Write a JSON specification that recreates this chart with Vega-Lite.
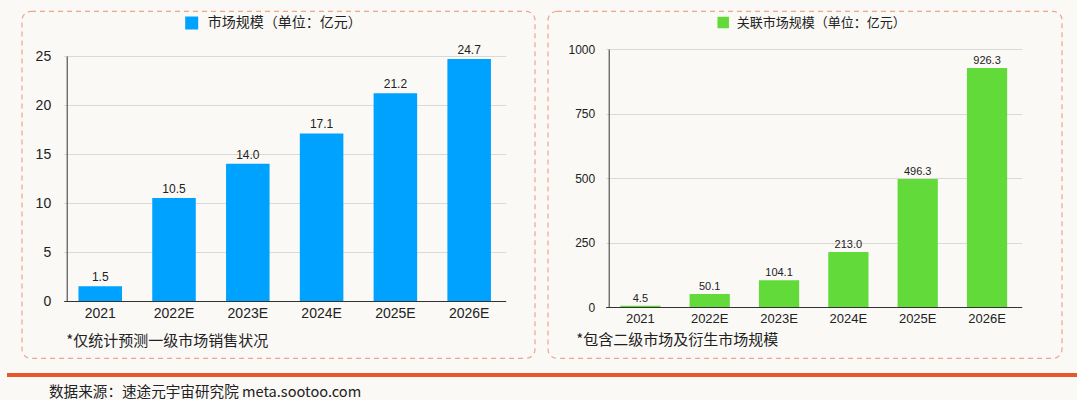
{
  "$schema": "https://vega.github.io/schema/vega-lite/v6.json",
  "background": "#faf9f6",
  "padding": {"left": 7, "top": 10, "right": 0, "bottom": 0},
  "center": true,
  "spacing": 13,
  "datasets": {
    "primary": [
      {"year": "2021", "value": 1.5, "series": "市场规模（单位：亿元）"},
      {"year": "2022E", "value": 10.5, "series": "市场规模（单位：亿元）"},
      {"year": "2023E", "value": 14.0, "series": "市场规模（单位：亿元）"},
      {"year": "2024E", "value": 17.1, "series": "市场规模（单位：亿元）"},
      {"year": "2025E", "value": 21.2, "series": "市场规模（单位：亿元）"},
      {"year": "2026E", "value": 24.7, "series": "市场规模（单位：亿元）"}
    ],
    "related": [
      {"year": "2021", "value": 4.5, "series": "关联市场规模（单位：亿元）"},
      {"year": "2022E", "value": 50.1, "series": "关联市场规模（单位：亿元）"},
      {"year": "2023E", "value": 104.1, "series": "关联市场规模（单位：亿元）"},
      {"year": "2024E", "value": 213.0, "series": "关联市场规模（单位：亿元）"},
      {"year": "2025E", "value": 496.3, "series": "关联市场规模（单位：亿元）"},
      {"year": "2026E", "value": 926.3, "series": "关联市场规模（单位：亿元）"}
    ]
  },
  "vconcat": [
    {
      "hconcat": [
        {
          "width": 513,
          "height": 347,
          "view": {"stroke": "#f2a38c", "strokeDash": [5, 4], "strokeWidth": 1.2, "cornerRadius": 9, "fill": null},
          "data": {"name": "primary"},
          "encoding": {
            "x": {
              "field": "year", "type": "nominal", "sort": null,
              "scale": {"range": [42, 484], "paddingInner": 0.41, "paddingOuter": 0.2},
              "axis": {
                "orient": "bottom", "offset": -57, "ticks": false, "tickSize": 0,
                "domainColor": "#333333", "domainWidth": 1, "labelAngle": 0,
                "labelPadding": 5, "labelFontSize": 14, "labelFont": "Liberation Sans", "labelColor": "#222222",
                "title": "*仅统计预测一级市场销售状况",
                "titleX": 44, "titleY": 39, "titleAlign": "left", "titleBaseline": "middle",
                "titleFont": "Noto Sans CJK SC", "titleFontSize": 15, "titleFontWeight": "normal", "titleColor": "#222222"
              }
            },
            "y": {
              "field": "value", "type": "quantitative",
              "scale": {"domain": [0, 25], "range": [290, 45], "nice": false, "zero": true},
              "axis": {
                "orient": "left", "offset": -45, "values": [0, 5, 10, 15, 20, 25], "format": "d",
                "ticks": false, "tickSize": 0, "domainColor": "#333333", "domainWidth": 1,
                "grid": true, "gridColor": "#d9d9d9", "gridWidth": 1,
                "labelPadding": 16, "labelFontSize": 14, "labelFont": "Liberation Sans", "labelColor": "#222222",
                "title": null
              }
            }
          },
          "layer": [
            {
              "mark": {"type": "bar", "color": "#00a2ff"},
              "encoding": {
                "color": {
                  "field": "series", "type": "nominal",
                  "scale": {"range": ["#00a2ff"]},
                  "legend": {
                    "orient": "none", "legendX": 163, "legendY": 5, "title": null,
                    "symbolType": "square", "symbolSize": 169, "symbolStrokeWidth": 0,
                    "labelOffset": 9, "labelFontSize": 14, "labelFont": "Noto Sans CJK SC", "labelColor": "#222222",
                    "labelLimit": 0, "padding": 0
                  }
                }
              }
            },
            {
              "mark": {"type": "text", "baseline": "alphabetic", "dy": -5, "fontSize": 12, "font": "Liberation Sans", "color": "#222222"},
              "encoding": {"text": {"field": "value", "type": "quantitative", "format": ".1f"}}
            }
          ]
        },
        {
          "width": 514,
          "height": 347,
          "view": {"stroke": "#f2a38c", "strokeDash": [5, 4], "strokeWidth": 1.2, "cornerRadius": 9, "fill": null},
          "data": {"name": "related"},
          "encoding": {
            "x": {
              "field": "year", "type": "nominal", "sort": null,
              "scale": {"range": [58, 474], "paddingInner": 0.42, "paddingOuter": 0.21},
              "axis": {
                "orient": "bottom", "offset": -51, "ticks": false, "tickSize": 0,
                "domainColor": "#333333", "domainWidth": 1, "labelAngle": 0,
                "labelPadding": 5, "labelFontSize": 13, "labelFont": "Liberation Sans", "labelColor": "#222222",
                "title": "*包含二级市场及衍生市场规模",
                "titleX": 28, "titleY": 32, "titleAlign": "left", "titleBaseline": "middle",
                "titleFont": "Noto Sans CJK SC", "titleFontSize": 15, "titleFontWeight": "normal", "titleColor": "#222222"
              }
            },
            "y": {
              "field": "value", "type": "quantitative",
              "scale": {"domain": [0, 1000], "range": [296, 38], "nice": false, "zero": true},
              "axis": {
                "orient": "left", "offset": -61, "values": [0, 250, 500, 750, 1000], "format": "d",
                "ticks": false, "tickSize": 0, "domainColor": "#333333", "domainWidth": 1,
                "grid": true, "gridColor": "#d9d9d9", "gridWidth": 1,
                "labelPadding": 14, "labelFontSize": 12, "labelFont": "Liberation Sans", "labelColor": "#222222",
                "title": null
              }
            }
          },
          "layer": [
            {
              "mark": {"type": "bar", "color": "#62da3a"},
              "encoding": {
                "color": {
                  "field": "series", "type": "nominal",
                  "scale": {"range": ["#62da3a"]},
                  "legend": {
                    "orient": "none", "legendX": 169, "legendY": 5, "title": null,
                    "symbolType": "square", "symbolSize": 132, "symbolStrokeWidth": 0,
                    "labelOffset": 7, "labelFontSize": 13, "labelFont": "Noto Sans CJK SC", "labelColor": "#222222",
                    "labelLimit": 0, "padding": 0
                  }
                }
              }
            },
            {
              "mark": {"type": "text", "baseline": "alphabetic", "dy": -4, "fontSize": 11, "font": "Liberation Sans", "color": "#222222"},
              "encoding": {"text": {"field": "value", "type": "quantitative", "format": ".1f"}}
            }
          ]
        }
      ],
      "spacing": 11,
      "resolve": {
        "scale": {"color": "independent", "x": "independent", "y": "independent"},
        "legend": {"color": "independent"}
      }
    },
    {
      "width": 1070,
      "height": 4,
      "view": {"fill": "#e8572b", "stroke": null},
      "data": {"values": [{"k": 1}]},
      "mark": {"type": "point", "opacity": 0},
      "encoding": {},
      "title": {
        "text": "数据来源：速途元宇宙研究院 meta.sootoo.com",
        "orient": "bottom", "anchor": "start", "dx": 42, "offset": 7,
        "font": "Noto Sans CJK SC", "fontSize": 14.6, "fontWeight": "normal", "color": "#222222"
      }
    }
  ],
  "config": {
    "font": "Liberation Sans"
  }
}
